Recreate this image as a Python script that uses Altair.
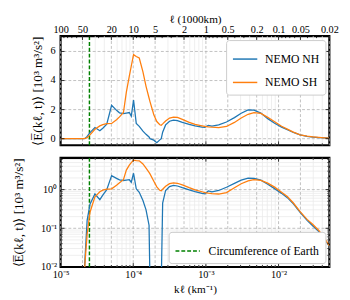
import altair as alt
import pandas as pd

# ---------------- data ----------------
k = [1.0e-5, 1.55e-5, 2.05e-5, 2.18e-5, 2.32e-5, 2.54e-5, 2.97e-5, 3.47e-5, 3.81e-5, 4.32e-5,
     5.04e-5, 5.89e-5, 6.47e-5, 7.33e-5, 8.04e-5, 8.83e-5, 9.40e-5, 1.01e-4, 1.10e-4, 1.21e-4,
     1.36e-4, 1.50e-4, 1.65e-4, 1.70e-4, 1.92e-4, 2.11e-4, 2.32e-4, 2.43e-4, 2.54e-4, 2.79e-4,
     3.16e-4, 3.58e-4, 4.06e-4, 4.74e-4, 5.89e-4, 7.10e-4, 8.83e-4, 9.69e-4, 1.08e-3, 1.21e-3,
     1.50e-3, 1.92e-3, 2.47e-3, 3.06e-3, 3.81e-3, 4.59e-3, 5.71e-3, 7.10e-3, 8.83e-3, 1.10e-2,
     1.32e-2, 1.60e-2, 1.98e-2, 2.47e-2, 2.97e-2, 3.58e-2, 4.32e-2, 5.0e-2]
nemo_nh = [1e-4, 1e-4, 0.002, 0.02, 0.16, 0.42, 0.77, 0.55, 0.72, 1.0,
           2.3, 1.95, 1.78, 1.72, 1.76, 1.8, 1.55, 2.65, 1.05, 0.85,
           0.52, 0.3, 0.12, 0.004, -0.1, -0.27, -0.08, 0.004, 0.45, 0.95,
           1.2, 1.28, 1.24, 1.12, 0.99, 0.89, 0.8, 0.78, 0.92, 0.87,
           0.95, 1.15, 1.45, 1.75, 1.98, 1.96, 1.76, 1.38, 1.06, 0.8,
           0.62, 0.43, 0.26, 0.16, 0.115, 0.082, 0.052, 0.034]
nemo_sh = [1e-4, 1e-4, 0.002, 0.015, 0.07, 0.26, 0.65, 0.88, 0.97, 1.03,
           1.05, 1.3, 1.5, 1.8, 3.2, 4.3, 5.0, 5.78, 5.65, 5.55,
           4.6, 3.6, 2.8, 2.55, 1.65, 1.18, 0.96, 0.93, 1.02, 1.22,
           1.42, 1.49, 1.46, 1.33, 1.12, 0.98, 0.88, 0.84, 0.81, 0.79,
           0.77, 0.84, 1.12, 1.42, 1.68, 1.8, 1.74, 1.47, 1.16, 0.86,
           0.66, 0.45, 0.27, 0.17, 0.125, 0.088, 0.055, 0.035]
series_names = ["NEMO NH", "NEMO SH"]
series_colors = ["#1f77b4", "#ff7f0e"]
k_earth = [1 / 40075.0]
earth_label = ["Circumference of Earth"]

x_label_vals = [1e-5, 1e-4, 1e-3, 1e-2]
ell_major = [100, 50, 20, 10, 5, 2, 1, 0.5, 0.2, 0.1, 0.05, 0.02]
y_top_vals = [0, 2, 4, 6]
y_top_labels = ["0", "2", "4", "6"]
y_bot_vals = [0.01, 0.1, 1]

# ---------------- helpers ----------------
FONT = "Liberation Serif"
W, H = 276, 112
decades = [1e-5, 1e-4, 1e-3, 1e-2]
kmax = 5e-2
x_major_grid = [m * d for d in decades for m in (1, 2, 5) if m * d <= kmax * 1.0001]
x_minor = [m * d for d in decades for m in (2, 3, 4, 5, 6, 7, 8, 9) if m * d < kmax]
x_minor_grid = [m * d for d in decades for m in (3, 4, 6, 7, 8, 9) if m * d < kmax]
ell_minor = [m * 10.0 ** n for n in (-2, -1, 0, 1) for m in (3, 4, 6, 7, 8, 9)
             if 0.02 < m * 10.0 ** n < 100]
k_top_major = [1e-3 / e for e in ell_major]
k_top_minor = [1e-3 / e for e in ell_minor]
y_bot_minor = [m * d for d in (0.01, 0.1, 1) for m in (2, 3, 4, 5, 6, 7, 8, 9) if m * d < 6.6]

rows = []
for name, vals in zip(series_names, [nemo_nh, nemo_sh]):
    for kk, v in zip(k, vals):
        rows.append({"k": kk, "E": v, "series": name})
df = pd.DataFrame(rows)

xscale = alt.Scale(type="log", domain=[1e-5, kmax], nice=False)
ys_top = alt.Scale(domain=[-0.45, 7.05], nice=False, zero=False)
ys_bot = alt.Scale(type="log", domain=[0.01, 6.6], nice=False)
cscale = alt.Scale(domain=series_names, range=series_colors)

GRID_C = "#b0b0b0"
MINOR_C = "#ebebeb"
ytitle = "⟨E̅(kℓ, t)⟩  [10³ m³/s²]"

ax_top_x = alt.Axis(orient="top", values=k_top_major, title="ℓ (1000km)",
                    labelExpr="format(0.001/datum.value, '.3~r')",
                    ticks=False, domain=False, grid=False, labelFlush=False,
                    labelOverlap=False, labelPadding=2, titlePadding=0)
ax_top_y = alt.Axis(values=y_top_vals, title=ytitle, ticks=False, domain=False,
                    grid=False, labels=False, titlePadding=17, titleFontSize=13.5)
ax_bot_x = alt.Axis(values=x_label_vals, title="kℓ (km⁻¹)",
                    labelExpr="datum.value < 5e-5 ? '10⁻⁵' : datum.value < 5e-4 ? '10⁻⁴' : datum.value < 5e-3 ? '10⁻³' : '10⁻²'",
                    ticks=False, domain=False, grid=False, labelFlush=False,
                    labelOverlap=False, labelPadding=3, titlePadding=4)
ax_bot_y = alt.Axis(values=y_bot_vals, title=ytitle, ticks=False, domain=False,
                    grid=False, labelPadding=4, titlePadding=14, labelOverlap=False,
                    labelFlush=False, titleFontSize=13.5,
                    labelExpr="datum.value < 0.05 ? '10⁻²' : datum.value < 0.5 ? '10⁻¹' : '10⁰'")


def vrules(vals, ax, color, dash=None, width=0.8):
    m = alt.Chart(pd.DataFrame({"k": vals})).mark_rule(color=color, strokeWidth=width,
                                                        **({"strokeDash": dash} if dash else {}))
    return m.encode(x=alt.X("k:Q", scale=xscale, axis=ax))


def hrules(vals, ys, ax, color, dash=None, width=0.8):
    m = alt.Chart(pd.DataFrame({"E": vals})).mark_rule(color=color, strokeWidth=width,
                                                        **({"strokeDash": dash} if dash else {}))
    return m.encode(y=alt.Y("E:Q", scale=ys, axis=ax))


def xticks(vals, ax, top, L):
    return alt.Chart(pd.DataFrame({"k": vals})).mark_rule(color="black", strokeWidth=0.8).encode(
        x=alt.X("k:Q", scale=xscale, axis=ax),
        y=alt.value(0 if top else H), y2=alt.value(L if top else H - L))


def yticks(vals, ys, ax, left, L):
    return alt.Chart(pd.DataFrame({"E": vals})).mark_rule(color="black", strokeWidth=0.8).encode(
        y=alt.Y("E:Q", scale=ys, axis=ax),
        x=alt.value(0 if left else W), x2=alt.value(L if left else W - L))


# ---------------- top panel ----------------
top_lines = alt.Chart(df).mark_line(strokeWidth=1.3, clip=True).encode(
    x=alt.X("k:Q", scale=xscale, axis=ax_top_x),
    y=alt.Y("E:Q", scale=ys_top, axis=ax_top_y),
    color=alt.Color("series:N", scale=cscale,
                    legend=alt.Legend(title=None, orient="top-right", offset=4, padding=6,
                                      strokeColor="#cccccc", fillColor="white", cornerRadius=3,
                                      symbolType="stroke", symbolSize=625, symbolStrokeWidth=1.5,
                                      labelFontSize=12, rowPadding=4, labelOffset=7)),
)
earth_top = alt.Chart(pd.DataFrame({"k": k_earth})).mark_rule(
    color="#008000", strokeWidth=1.5, strokeDash=[4, 2]).encode(
    x=alt.X("k:Q", scale=xscale, axis=ax_top_x))
top_ylabels = alt.Chart(pd.DataFrame({"E": y_top_vals, "lab": y_top_labels})).mark_text(
    align="right", baseline="middle", font=FONT, fontSize=10.5, color="black", dx=-5
).encode(y=alt.Y("E:Q", scale=ys_top, axis=ax_top_y), x=alt.value(0), text="lab:N")

top = alt.layer(
    vrules(x_minor_grid, ax_top_x, MINOR_C),
    vrules(x_major_grid, ax_top_x, GRID_C, [3, 2]),
    hrules(y_top_vals, ys_top, ax_top_y, GRID_C, [3, 2]),
    earth_top,
    top_lines,
    top_ylabels,
    xticks(x_label_vals, ax_top_x, False, 4), xticks(x_minor, ax_top_x, False, 2),
    xticks(k_top_major, ax_top_x, True, 4), xticks(k_top_minor, ax_top_x, True, 2),
    yticks(y_top_vals, ys_top, ax_top_y, True, 4), yticks(y_top_vals, ys_top, ax_top_y, False, 4),
).properties(width=W, height=H)

# ---------------- bottom panel ----------------
bot_lines = alt.Chart(df).transform_filter("datum.E > 0").mark_line(
    strokeWidth=1.3, clip=True).encode(
    x=alt.X("k:Q", scale=xscale, axis=ax_bot_x),
    y=alt.Y("E:Q", scale=ys_bot, axis=ax_bot_y),
    color=alt.Color("series:N", scale=cscale, legend=None),
)
earth_bot = alt.Chart(pd.DataFrame({"k": k_earth, "label": earth_label})).mark_rule(
    color="#008000", strokeWidth=1.5).encode(
    x=alt.X("k:Q", scale=xscale, axis=ax_bot_x),
    strokeDash=alt.StrokeDash("label:N",
                              scale=alt.Scale(domain=earth_label, range=[[4, 2]]),
                              legend=alt.Legend(title=None, orient="bottom-right", offset=4,
                                                padding=6, strokeColor="#cccccc",
                                                fillColor="white", cornerRadius=3,
                                                symbolType="stroke", symbolSize=625,
                                                symbolStrokeWidth=1.5,
                                                symbolStrokeColor="#008000",
                                                labelFontSize=12, labelOffset=8)),
)

bottom = alt.layer(
    vrules(x_minor_grid, ax_bot_x, MINOR_C),
    hrules(y_bot_minor, ys_bot, ax_bot_y, MINOR_C),
    vrules(x_major_grid, ax_bot_x, GRID_C, [3, 2]),
    hrules([0.1, 1], ys_bot, ax_bot_y, GRID_C, [3, 2]),
    earth_bot,
    bot_lines,
    xticks(x_label_vals, ax_bot_x, False, 4), xticks(x_minor, ax_bot_x, False, 2),
    xticks(x_label_vals, ax_bot_x, True, 4), xticks(x_minor, ax_bot_x, True, 2),
    yticks(y_bot_vals, ys_bot, ax_bot_y, True, 4), yticks(y_bot_minor, ys_bot, ax_bot_y, True, 2),
    yticks(y_bot_vals, ys_bot, ax_bot_y, False, 4), yticks(y_bot_minor, ys_bot, ax_bot_y, False, 2),
).properties(width=W, height=H)

chart = alt.vconcat(top, bottom, spacing=7).resolve_scale(
    y="independent", strokeDash="independent"
).resolve_axis(x="independent", y="independent").resolve_legend(
    color="independent", strokeDash="independent"
).properties(
    padding={"left": 3, "top": 0, "right": 2, "bottom": 0}
).configure_axis(
    labelFont=FONT, titleFont=FONT, labelFontSize=10.5, titleFontSize=11.5,
    titleFontWeight="normal", labelColor="black", titleColor="black", grid=False,
    ticks=False, domain=False
).configure_legend(
    labelFont=FONT, labelColor="black"
).configure_view(stroke="black", strokeWidth=2.2)

chart.save("out.html", embed_options={"renderer": "svg", "actions": False})
